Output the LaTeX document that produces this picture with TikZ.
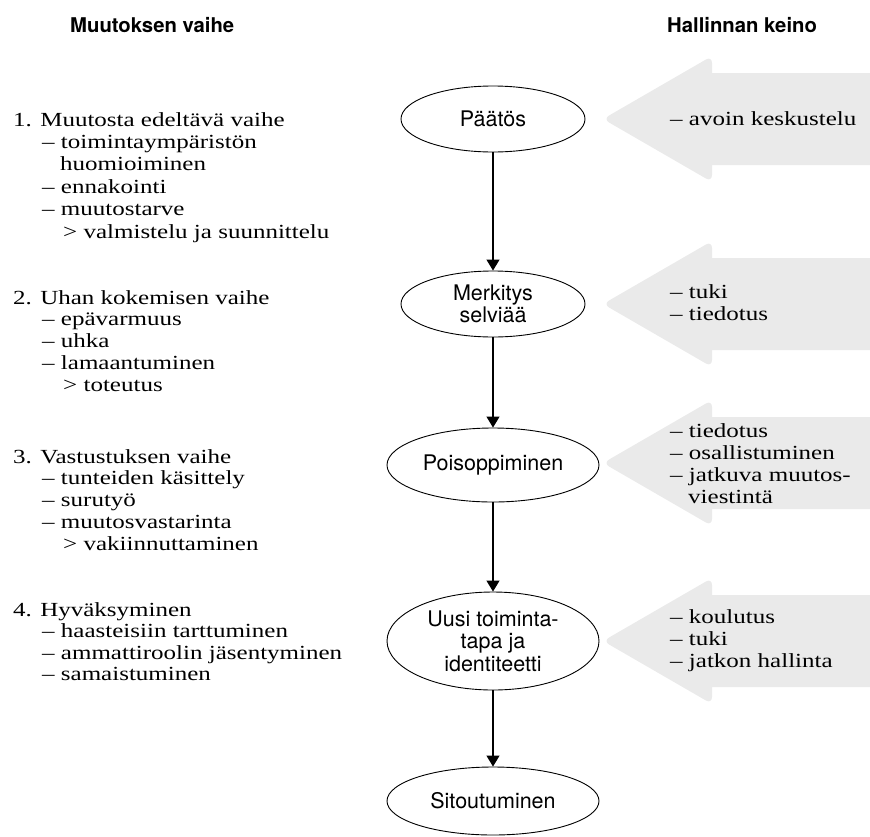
\documentclass[tikz,border=0pt]{standalone}
\usepackage{fontspec}
\setmainfont{Liberation Serif}[FakeStretch=1.25]
\setsansfont{TeX Gyre Heros}
\usetikzlibrary{arrows.meta,shapes.geometric}
\definecolor{arrowgray}{HTML}{EAEAEA}
\tikzset{
  body/.style={font=\rmfamily\fontsize{20}{22}\selectfont, anchor=base west, inner sep=0pt},
  colhead/.style={font=\sffamily\bfseries\fontsize{20.3}{24}\selectfont, anchor=base west, inner sep=0pt},
  stage/.style={ellipse, draw, line width=0.9pt, font=\sffamily\fontsize{21.5}{22.5}\selectfont, align=center, inner sep=0pt},
  flow/.style={-{Triangle[width=13pt,length=11pt]}, line width=1.1pt},
  ground/.style={fill=arrowgray}
}
\newcommand\grayarrow[1]{%
  \fill[ground] (872,#1-46) -- (712,#1-46)
     [rounded corners=7pt] -- (712,#1-63) -- (603,#1) -- (712,#1+63)
     [sharp corners] -- (712,#1+46) -- (872,#1+46) -- cycle;}
\begin{document}
\begin{tikzpicture}[x=1pt,y=-1pt]
\useasboundingbox (0,0) rectangle (870,836);

% gray arrows
\grayarrow{119}
\grayarrow{304}
\grayarrow{463}
\grayarrow{641}

% headers
\node[colhead] (h1) at (70,32) {Muutoksen vaihe};
\node[colhead] (h2) at (667,32) {Hallinnan keino};

% stages
\node[stage, minimum width=184pt, minimum height=66pt] (s1) at (493,119) {Päätös};
\node[stage, minimum width=184pt, minimum height=66pt] (s2) at (493,304) {Merkitys\\selviää};
\node[stage, minimum width=212pt, minimum height=74pt] (s3) at (493,465) {Poisoppiminen};
\node[stage, minimum width=212pt, minimum height=98pt] (s4) at (493,641) {Uusi toiminta-\\tapa ja\\identiteetti};
\node[stage, minimum width=212pt, minimum height=68pt] (s5) at (493,801) {Sitoutuminen};

\draw[flow] (s1) -- (s2);
\draw[flow] (s2) -- (s3);
\draw[flow] (s3) -- (s4);
\draw[flow] (s4) -- (s5);

% left column
\foreach \x/\t [count=\i from 0] in {13/{1. Muutosta edeltävä vaihe}, 42/{– toimintaympäristön}, 60/{huomioiminen}, 42/{– ennakointi}, 42/{– muutostarve}, 63/{> valmistelu ja suunnittelu}}
  \node[body] (a-\i) at (\x,126+22.4*\i) {\t};
\foreach \x/\t [count=\i from 0] in {13/{2. Uhan kokemisen vaihe}, 42/{– epävarmuus}, 42/{– uhka}, 42/{– lamaantuminen}, 63/{> toteutus}}
  \node[body] (b-\i) at (\x,304+21.8*\i) {\t};
\foreach \x/\t [count=\i from 0] in {13/{3. Vastustuksen vaihe}, 42/{– tunteiden käsittely}, 42/{– surutyö}, 42/{– muutosvastarinta}, 63/{> vakiinnuttaminen}}
  \node[body] (c-\i) at (\x,463+21.8*\i) {\t};
\foreach \x/\t [count=\i from 0] in {13/{4. Hyväksyminen}, 42/{– haasteisiin tarttuminen}, 42/{– ammattiroolin jäsentyminen}, 42/{– samaistuminen}}
  \node[body] (d-\i) at (\x,616+21.6*\i) {\t};

% right column
\node[body] (r1-0) at (670,125) {– avoin keskustelu};
\foreach \x/\t [count=\i from 0] in {670/{– tuki}, 670/{– tiedotus}}
  \node[body] (r2-\i) at (\x,298+22*\i) {\t};
\foreach \x/\t [count=\i from 0] in {670/{– tiedotus}, 670/{– osallistuminen}, 670/{– jatkuva muutos-}, 688/{viestintä}}
  \node[body] (r3-\i) at (\x,437+22*\i) {\t};
\foreach \x/\t [count=\i from 0] in {670/{– koulutus}, 670/{– tuki}, 670/{– jatkon hallinta}}
  \node[body] (r4-\i) at (\x,623+22*\i) {\t};
\end{tikzpicture}
\end{document}
